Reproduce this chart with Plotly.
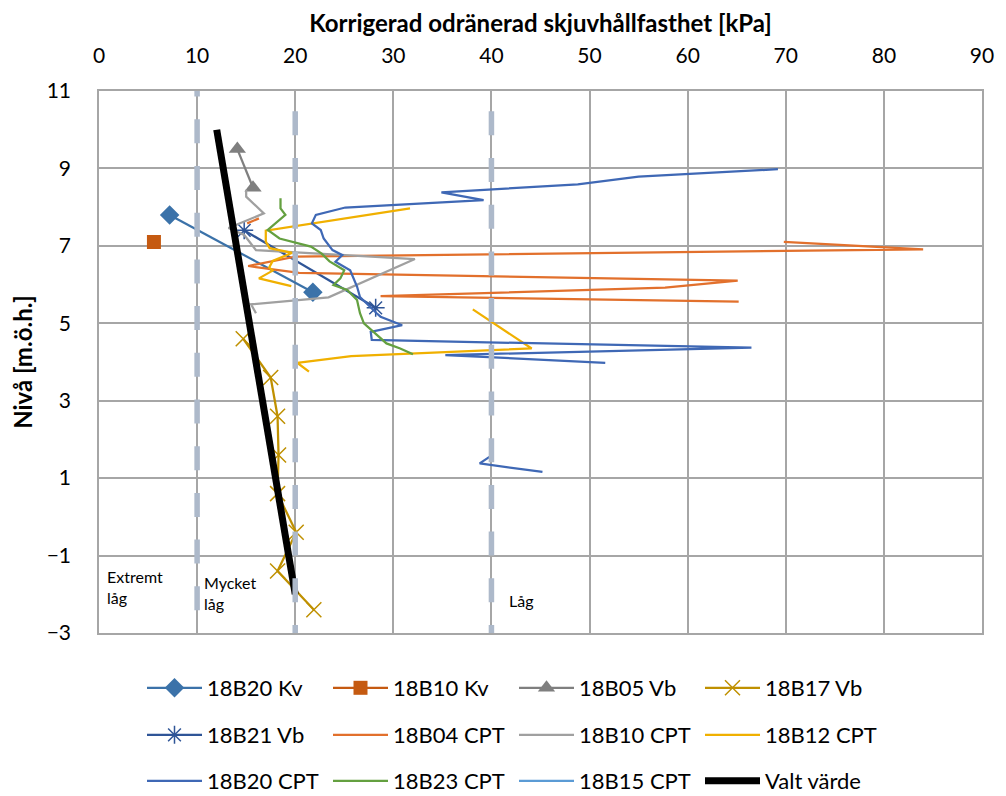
import plotly.graph_objects as go

# ---------------- data ----------------
kv_18b20_x = [7.2, 21.8]
kv_18b20_y = [7.8, 5.8]

kv_18b10_x = [5.6]
kv_18b10_y = [7.1]

vb_18b05_x = [14.1, 15.7]
vb_18b05_y = [9.5, 8.5]

vb_18b17_x = [14.7, 17.5, 18.2, 18.3, 18.2, 20.1, 18.2, 21.9]
vb_18b17_y = [4.6, 3.6, 2.6, 1.6, 0.6, -0.4, -1.4, -2.4]

vb_18b21_x = [14.8, 28.2]
vb_18b21_y = [7.4, 5.4]

cpt_18b04_x = [15.1, 16.3, None, 69.8, 84.0, 20.0, 15.2, 20.4, 65.1, 57.7, 28.7, 65.2]
cpt_18b04_y = [7.58, 7.71, None, 7.10, 6.91, 6.72, 6.48, 6.30, 6.10, 5.92, 5.70, 5.56]

cpt_18b10_x = [15.0, 15.0, 16.8, 13.2, 14.8, 16.0, 32.2, 23.4, 15.5, 16.0]
cpt_18b10_y = [8.45, 8.27, 7.84, 7.46, 7.28, 6.89, 6.66, 5.67, 5.49, 5.26]

cpt_18b12_x = [31.7, 17.0, 17.0, 17.4, 19.7, 17.7, 17.35, 17.7, 16.3, 19.6,
               None, 38.1, 40.2, 44.1, 25.7, 20.2, 21.4]
cpt_18b12_y = [7.97, 7.39, 7.11, 6.94, 6.82, 6.61, 6.44, 6.36, 6.16, 5.96,
               None, 5.36, 5.0, 4.35, 4.15, 3.98, 3.75]

cpt_18b20_x = [69.2, 55.0, 48.8, 40.0, 34.9, 39.2, 25.1, 22.1, 21.7, 22.6, 22.9,
               23.8, 24.8, 24.1, 25.6, 26.3, 26.6, 28.3, 28.7, 30.9, 27.7, 27.8,
               66.5, 35.3, 51.6, None, 39.8, 38.8, 45.2]
cpt_18b20_y = [8.98, 8.79, 8.59, 8.46, 8.38, 8.18, 7.99, 7.80, 7.58, 7.41, 7.19,
               6.89, 6.76, 6.59, 6.37, 5.95, 5.68, 5.26, 5.17, 4.95, 4.78, 4.57,
               4.37, 4.18, 3.98, None, 1.55, 1.38, 1.16]

cpt_18b23_x = [18.5, 18.5, 19.0, 17.2, 18.4, 19.55, 21.6, 22.7, 23.5, 25.0, 24.6,
               23.9, 25.3, 26.3, 26.6, 27.0, 28.5, 29.3, 30.7, 32.0]
cpt_18b23_y = [8.23, 7.97, 7.80, 7.41, 7.19, 7.11, 6.98, 6.80, 6.60, 6.37, 6.16,
               5.99, 5.86, 5.60, 5.26, 5.00, 4.65, 4.48, 4.35, 4.20]

cpt_18b15_x = [None]
cpt_18b15_y = [None]

valt_x = [12, 20]
valt_y = [10, -2]

# class boundaries (kPa) and their labels
boundaries = [10, 20, 40]
zone_labels = ["Extremt<br>låg", "Mycket<br>låg", "Låg"]
zone_label_x = [0.6, 10.5, 41.6]
zone_label_y = [-1.82, -1.97, -2.15]

x_range = [0, 90]
y_range = [-3, 11]
y_ticks = [-3, -1, 1, 3, 5, 7, 9, 11]

FONT = "Lato, sans-serif"

# page body has an 8px margin, so the figure is 8px smaller than the window
W, H = 998, 788
OFF = 8

fig = go.Figure()


def add(name, x, y, color, legend, width=2.25, mode="lines", marker=None):
    fig.add_trace(go.Scatter(
        x=x, y=y, name=name, mode=mode, legend=legend,
        line=dict(color=color, width=width),
        marker=marker, connectgaps=False,
    ))


add("18B20 Kv", kv_18b20_x, kv_18b20_y, "#3B72A9", "legend", mode="lines+markers",
    marker=dict(symbol="diamond", size=15, color="#3B72A9"))
add("18B10 Kv", kv_18b10_x, kv_18b10_y, "#C55A11", "legend", mode="lines+markers",
    marker=dict(symbol="square", size=14, color="#C55A11"))
add("18B05 Vb", vb_18b05_x, vb_18b05_y, "#7F7F7F", "legend", mode="lines+markers",
    marker=dict(symbol="triangle-up", size=15, color="#7F7F7F"))
add("18B17 Vb", vb_18b17_x, vb_18b17_y, "#BF9000", "legend", mode="lines+markers",
    marker=dict(symbol="x-thin-open", size=15, color="#BF9000",
                line=dict(color="#BF9000", width=1.5)))
add("18B21 Vb", vb_18b21_x, vb_18b21_y, "#2F5597", "legend2", mode="lines+markers",
    marker=dict(symbol="asterisk-open", size=15, color="#2F5597",
                line=dict(color="#2F5597", width=1.5)))
add("18B04 CPT", cpt_18b04_x, cpt_18b04_y, "#E2702C", "legend2")
add("18B10 CPT", cpt_18b10_x, cpt_18b10_y, "#A0A0A0", "legend2")
add("18B12 CPT", cpt_18b12_x, cpt_18b12_y, "#F0B000", "legend2")
add("18B20 CPT", cpt_18b20_x, cpt_18b20_y, "#3F68B5", "legend3")
add("18B23 CPT", cpt_18b23_x, cpt_18b23_y, "#64A040", "legend3")
add("18B15 CPT", cpt_18b15_x, cpt_18b15_y, "#5B9BD5", "legend3")
add("Valt värde", valt_x, valt_y, "#000000", "legend3", width=7)

# dashed class-boundary lines (drawn on top), dash phase matched to reference
px_per_unit = 542 / (y_range[1] - y_range[0])
phase_px = [24, 16, 16]
for b, ph in zip(boundaries, phase_px):
    off = ph / px_per_unit
    fig.add_trace(go.Scatter(
        x=[b, b], y=[y_range[0] - off, y_range[1] + 1], mode="lines",
        line=dict(color="#ADB9CA", width=5.5, dash="24px,22.7px"),
        showlegend=False, hoverinfo="skip",
    ))

for t, xx, yy in zip(zone_labels, zone_label_x, zone_label_y):
    fig.add_annotation(x=xx, y=yy, text=t, showarrow=False, xanchor="left",
                       yanchor="middle", align="left",
                       font=dict(family=FONT, size=16, color="#000000"))

grid_col = "#A6A6A6"
fig.update_xaxes(
    side="top", range=x_range, dtick=10, tick0=0,
    showgrid=True, gridcolor=grid_col, gridwidth=1.5,
    showline=True, linecolor=grid_col, linewidth=1.5, mirror=True,
    zeroline=False, ticks="", ticklabelstandoff=18,
    tickfont=dict(family=FONT, size=21, color="#000000"),
    title=dict(text="<b>Korrigerad odränerad skjuvhållfasthet [kPa]</b>",
               font=dict(family=FONT, size=24, color="#000000"), standoff=5),
)
fig.update_yaxes(
    range=y_range, tickvals=y_ticks,
    showgrid=True, gridcolor=grid_col, gridwidth=1.5,
    showline=True, linecolor=grid_col, linewidth=1.5, mirror=True,
    zeroline=False, ticks="", ticklabelstandoff=22,
    tickfont=dict(family=FONT, size=21, color="#000000"),
    title=dict(text="<b>Nivå [m.ö.h.]</b>",
               font=dict(family=FONT, size=24, color="#000000"), standoff=10),
)

leg_common = dict(orientation="h", xref="container", yref="container",
                  x=134 / W, xanchor="left", yanchor="middle",
                  entrywidth=116, entrywidthmode="pixels", itemwidth=55,
                  font=dict(family=FONT, size=22, color="#000000"),
                  bgcolor="rgba(0,0,0,0)", traceorder="normal")

fig.update_layout(
    width=W, height=H,
    margin=dict(l=97 - OFF, r=W - (985 - OFF), t=91 - OFF, b=H - (633 - OFF)),
    paper_bgcolor="white", plot_bgcolor="white",
    legend=dict(leg_common, y=1 - (688 - OFF) / H),
    legend2=dict(leg_common, y=1 - (735 - OFF) / H),
    legend3=dict(leg_common, y=1 - (781 - OFF) / H),
    font=dict(family=FONT),
)

fig.write_html("out.html")
